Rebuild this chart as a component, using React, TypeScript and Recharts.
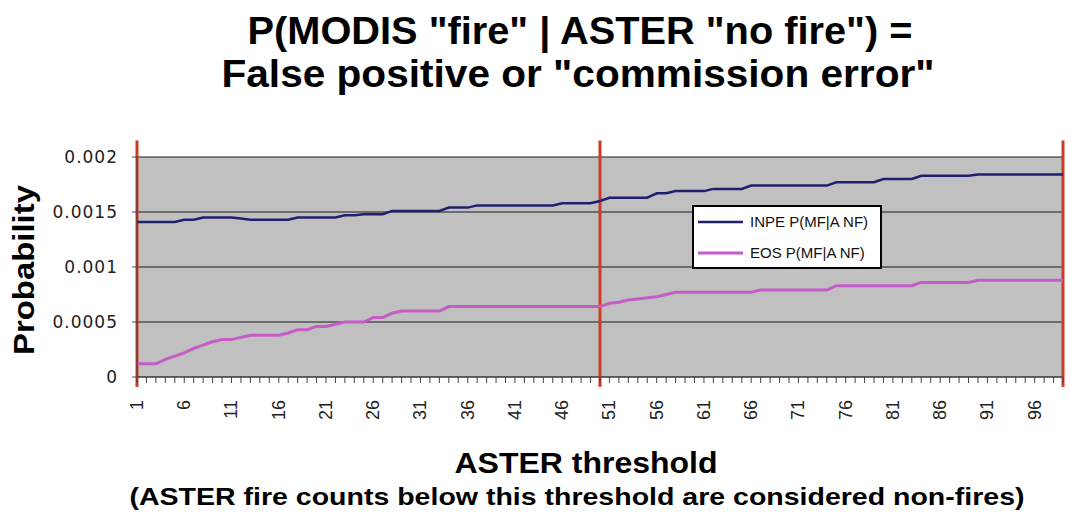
import { LineChart, Line, XAxis, YAxis, CartesianGrid, ReferenceLine, Legend } from 'recharts';

// ASTER threshold categories 1..99
const thresholds = Array.from({ length: 99 }, (_, i) => i + 1);

const inpeValues = [
  0.00141, 0.00141, 0.00141, 0.00141, 0.00141, 0.00143, 0.00143, 0.00145, 0.00145, 0.00145,
  0.00145, 0.00144, 0.00143, 0.00143, 0.00143, 0.00143, 0.00143, 0.00145, 0.00145, 0.00145,
  0.00145, 0.00145, 0.00147, 0.00147, 0.00148, 0.00148, 0.00148, 0.00151, 0.00151, 0.00151,
  0.00151, 0.00151, 0.00151, 0.00154, 0.00154, 0.00154, 0.00156, 0.00156, 0.00156, 0.00156,
  0.00156, 0.00156, 0.00156, 0.00156, 0.00156, 0.00158, 0.00158, 0.00158, 0.00158, 0.0016,
  0.00163, 0.00163, 0.00163, 0.00163, 0.00163, 0.00167, 0.00167, 0.00169, 0.00169, 0.00169,
  0.00169, 0.00171, 0.00171, 0.00171, 0.00171, 0.00174, 0.00174, 0.00174, 0.00174, 0.00174,
  0.00174, 0.00174, 0.00174, 0.00174, 0.00177, 0.00177, 0.00177, 0.00177, 0.00177, 0.0018,
  0.0018, 0.0018, 0.0018, 0.00183, 0.00183, 0.00183, 0.00183, 0.00183, 0.00183, 0.00184,
  0.00184, 0.00184, 0.00184, 0.00184, 0.00184, 0.00184, 0.00184, 0.00184, 0.00184,
];

const eosValues = [
  0.00012, 0.00012, 0.00012, 0.00016, 0.00019, 0.00022, 0.00026, 0.00029, 0.00032, 0.00034,
  0.00034, 0.00036, 0.00038, 0.00038, 0.00038, 0.00038, 0.0004, 0.00043, 0.00043, 0.00046,
  0.00046, 0.00048, 0.0005, 0.0005, 0.0005, 0.00054, 0.00054, 0.00058, 0.0006, 0.0006,
  0.0006, 0.0006, 0.0006, 0.00064, 0.00064, 0.00064, 0.00064, 0.00064, 0.00064, 0.00064,
  0.00064, 0.00064, 0.00064, 0.00064, 0.00064, 0.00064, 0.00064, 0.00064, 0.00064, 0.00064,
  0.00067, 0.00068, 0.0007, 0.00071, 0.00072, 0.00073, 0.00075, 0.00077, 0.00077, 0.00077,
  0.00077, 0.00077, 0.00077, 0.00077, 0.00077, 0.00077, 0.00079, 0.00079, 0.00079, 0.00079,
  0.00079, 0.00079, 0.00079, 0.00079, 0.00083, 0.00083, 0.00083, 0.00083, 0.00083, 0.00083,
  0.00083, 0.00083, 0.00083, 0.00086, 0.00086, 0.00086, 0.00086, 0.00086, 0.00086, 0.00088,
  0.00088, 0.00088, 0.00088, 0.00088, 0.00088, 0.00088, 0.00088, 0.00088, 0.00088,
];

const yTicks = [0, 0.0005, 0.001, 0.0015, 0.002];
const markers = [1, 50, 99];

const seriesNames = ['INPE P(MF|A NF)', 'EOS P(MF|A NF)'];
const seriesColors = ['#1f1f6e', '#c65cc6'];

const data = thresholds.map((t, i) => ({ t, inpe: inpeValues[i], eos: eosValues[i] }));

const boldFont = '"Liberation Sans", Arial, sans-serif';

function XTick(props: any) {
  const { x, y, payload } = props;
  if ((payload.value - 1) % 5 !== 0) return null;
  return (
    <text
      transform={`translate(${x},${y + 15}) rotate(-90)`}
      textAnchor="end"
      dominantBaseline="central"
      fontFamily={boldFont}
      fontSize={18}
      fill="#222"
    >
      {payload.value}
    </text>
  );
}

function LegendBox() {
  return (
    <svg width={190} height={64} style={{ display: 'block' }}>
      <rect x={1} y={1} width={188} height={62} fill="#fff" stroke="#000" strokeWidth={2} />
      <line x1={6} x2={51} y1={17} y2={17} stroke={seriesColors[0]} strokeWidth={2.5} />
      <text x={58} y={22} fontFamily={boldFont} fontSize={15} fill="#111">
        {seriesNames[0]}
      </text>
      <line x1={6} x2={51} y1={48} y2={48} stroke={seriesColors[1]} strokeWidth={3} />
      <text x={58} y={53} fontFamily={boldFont} fontSize={15} fill="#111">
        {seriesNames[1]}
      </text>
    </svg>
  );
}

export default function App() {
  return (
    <div style={{ position: 'absolute', left: 0, top: 0, width: 1070, height: 512, background: '#fff' }}>
      <LineChart
        width={1070}
        height={512}
        data={data}
        margin={{ top: 157, right: 7, bottom: 105, left: 67 }}
      >
        <CartesianGrid vertical={false} stroke="#1a1a1a" fill="#c0c0c0" fillOpacity={1} />
        <XAxis
          dataKey="t"
          interval={0}
          height={30}
          tickSize={6}
          tickMargin={2}
          stroke="#444"
          tick={<XTick />}
        />
        <YAxis
          domain={[0, 0.002]}
          ticks={yTicks}
          width={70}
          tickSize={5}
          tickMargin={14}
          stroke="#444"
          tick={{ fill: '#222', fontSize: 17, fontFamily: 'DejaVu Sans', letterSpacing: 1 }}
          tickFormatter={(v: number) => String(v)}
        />
        {markers.map((m) => (
          <ReferenceLine
            key={m}
            segment={[{ x: m, y: 0.00215 }, { x: m, y: -0.00009 }]}
            stroke="#cf3a22"
            strokeWidth={3}
            ifOverflow="visible"
          />
        ))}
        <Line type="linear" dataKey="inpe" stroke={seriesColors[0]} strokeWidth={2.5} dot={false} isAnimationActive={false} />
        <Line type="linear" dataKey="eos" stroke={seriesColors[1]} strokeWidth={3} dot={false} isAnimationActive={false} />
        <Legend
          layout="horizontal"
          verticalAlign="middle"
          content={<LegendBox />}
          wrapperStyle={{ position: 'absolute', left: 692, top: 205, width: 190, height: 64 }}
        />
      </LineChart>
      <svg
        width={1070}
        height={512}
        style={{ position: 'absolute', left: 0, top: 0, pointerEvents: 'none' }}
      >
        <text x={580} y={44} textAnchor="middle" fontFamily={boldFont} fontWeight="bold" fontSize={38} textLength={665} lengthAdjust="spacingAndGlyphs" fill="#000">
          P(MODIS "fire" | ASTER "no fire") =
        </text>
        <text x={578} y={87} textAnchor="middle" fontFamily={boldFont} fontWeight="bold" fontSize={38} textLength={713} lengthAdjust="spacingAndGlyphs" fill="#000">
          False positive or "commission error"
        </text>
        <text transform="translate(34,270) rotate(-90)" textAnchor="middle" fontFamily={boldFont} fontWeight="bold" fontSize={29} textLength={170} lengthAdjust="spacingAndGlyphs" fill="#000">
          Probability
        </text>
        <text x={586} y={473} textAnchor="middle" fontFamily={boldFont} fontWeight="bold" fontSize={30} textLength={263} lengthAdjust="spacingAndGlyphs" fill="#000">
          ASTER threshold
        </text>
        <text x={577} y={505} textAnchor="middle" fontFamily={boldFont} fontWeight="bold" fontSize={24} textLength={895} lengthAdjust="spacingAndGlyphs" fill="#000">
          (ASTER fire counts below this threshold are considered non-fires)
        </text>
      </svg>
    </div>
  );
}
